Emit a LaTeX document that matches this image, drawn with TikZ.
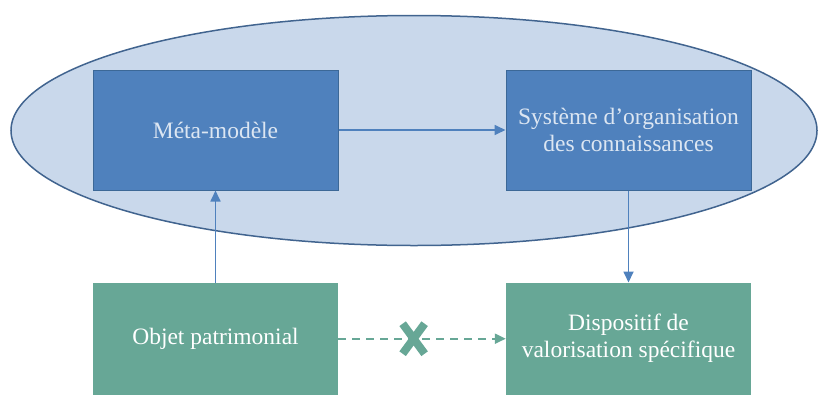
\documentclass[tikz,border=0pt]{standalone}
\usepackage{fontspec}
\setmainfont{Liberation Serif}
\usetikzlibrary{positioning, arrows.meta, calc}
\definecolor{ovalfill}{HTML}{C9D8EB}
\definecolor{ovaldraw}{HTML}{41648F}
\definecolor{bluebox}{HTML}{4F81BD}
\definecolor{blueline}{HTML}{3C6897}
\definecolor{bluetext}{HTML}{DCE6F2}
\definecolor{greenbox}{HTML}{67A796}
\tikzset{
  modelbox/.style={draw=blueline, line width=1pt, fill=bluebox, text=bluetext,
    minimum width=245pt, minimum height=120pt, align=center,
    font=\fontsize{23.5}{27}\selectfont},
  objbox/.style={fill=greenbox, text=white,
    minimum width=245pt, minimum height=112pt, align=center,
    font=\fontsize{23.5}{27}\selectfont},
  flow/.style={-{Triangle[length=11pt,width=10pt]}, line width=1.7pt, bluebox},
  noflow/.style={-{Triangle[length=11pt,width=10pt]}, line width=2pt, greenbox,
    dash pattern=on 8pt off 6pt},
  node distance=92pt and 167pt
}

\begin{document}
\begin{tikzpicture}[x=1pt, y=1pt]
    \useasboundingbox (0,0) rectangle (818,-394);
    \draw[ovaldraw, fill=ovalfill, line width=1.5pt] (414,-130.5) ellipse [x radius=403, y radius=115];

    \node[modelbox] (meta) at (215.5,-130) {Méta-modèle};
    \node[modelbox, right = of meta] (soc) {Système d’organisation\\des connaissances};
    \node[objbox, below = of meta] (obj) {Objet patrimonial};
    \node[objbox, below = of soc] (disp) {Dispositif de\\valorisation spécifique};

    \draw[flow] (meta) -- (soc);
    \draw[flow] (obj) -- (meta);
    \draw[flow] (soc) -- (disp);
    \draw[noflow] (obj.east) -- (disp.west);

    % the cross on the dashed arrow
    \coordinate (cross) at ($(obj.east)!0.45!(disp.west)$);
    \draw[greenbox, line width=8pt] ([shift={(-11,15)}]cross) -- ([shift={(11,-15)}]cross)
                                    ([shift={(-11,-15)}]cross) -- ([shift={(11,15)}]cross);
\end{tikzpicture}
\end{document}
